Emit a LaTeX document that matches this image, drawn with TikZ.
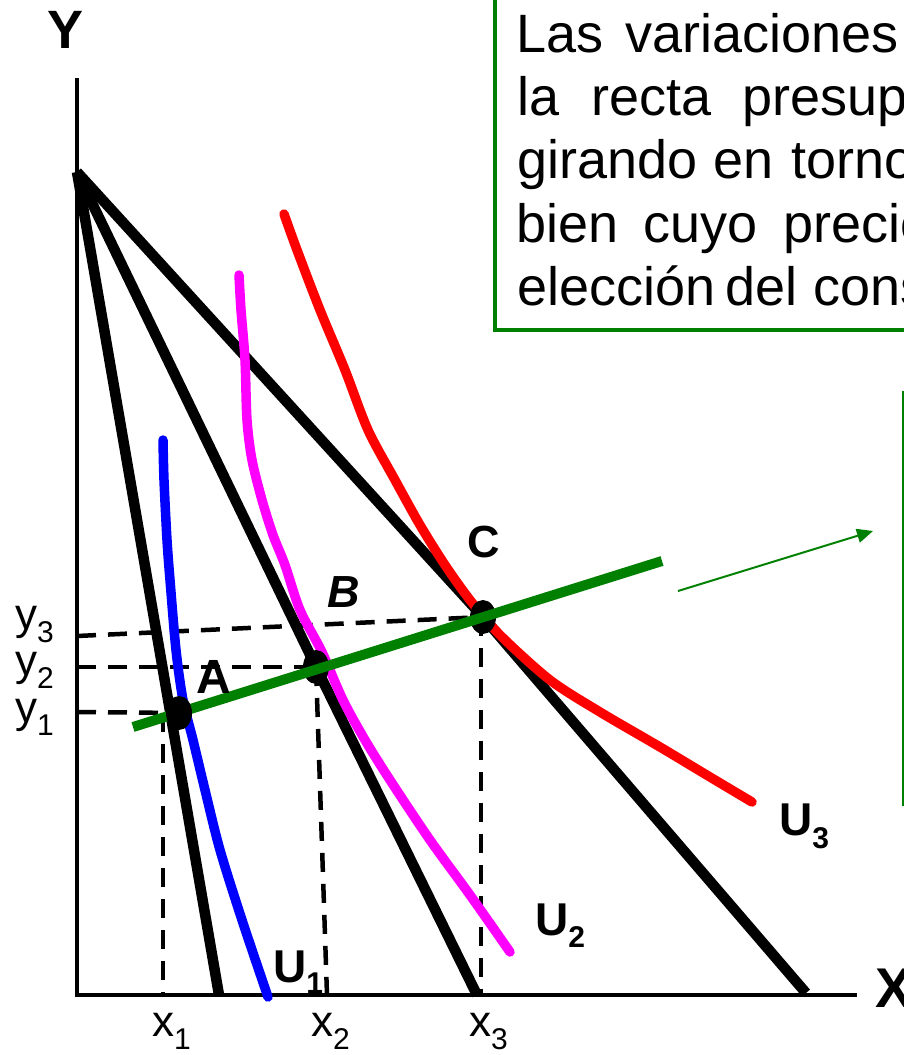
\documentclass[tikz,border=0pt]{standalone}
\usepackage{fontspec}
\setmainfont{Liberation Sans}
\usetikzlibrary{arrows.meta,shapes.geometric}
\definecolor{pgreen}{RGB}{0,128,0}
\definecolor{pmag}{RGB}{255,0,255}
\definecolor{pblue}{RGB}{0,0,255}
\definecolor{pred}{RGB}{255,0,0}
\newcommand{\sbs}[3]{#1\raisebox{-#3pt}{\fontsize{30}{30}\selectfont #2}}
\begin{document}
\begin{tikzpicture}[x=1pt,y=-1pt,
  axis/.style={line width=4.5pt},
  budget/.style={line width=10.5pt},
  dashln/.style={line width=4.5pt, dash pattern=on 19pt off 12pt},
  icurve/.style={line width=9.5pt, line cap=round, line join=round},
  lab/.style={inner sep=0pt, anchor=base west, font=\fontsize{46}{50}\selectfont\bfseries},
  ticklab/.style={inner sep=0pt, anchor=base west, font=\fontsize{44}{48}\selectfont},
  txt/.style={inner sep=0pt, anchor=base west, font=\fontsize{54}{63}\selectfont},
  dot/.style={ellipse, fill=black, minimum width=26pt, minimum height=34pt, inner sep=0pt}
]
\useasboundingbox (0,0) rectangle (904,1055);
\clip (0,0) rectangle (904,1055);

% key points
\coordinate (O) at (77,172);
\coordinate (E1) at (219,995);
\coordinate (E2) at (477,995);
\coordinate (E3) at (806,993);
\coordinate (pA) at (179,713);
\coordinate (pB) at (316,667);
\coordinate (pC) at (483,617);
\coordinate (G1) at (133,727);
\coordinate (G2) at (662,561);

% axes
\coordinate (Ytop) at (77,78);
\coordinate (Orig) at (77,995);
\coordinate (Xend) at (857,995);
\draw[axis] (Ytop) -- (Orig) -- (Xend);
\node[inner sep=0pt, anchor=base, font=\fontsize{54}{60}\selectfont\bfseries] (Ylab) at (66,48) {Y};
\node[inner sep=0pt, anchor=base west, font=\fontsize{56}{60}\selectfont\bfseries] (Xlab) at (875,1007) {X};

% dashed guides
\coordinate (y1l) at (77,712);
\coordinate (y2l) at (77,667);
\coordinate (y3l) at (77,636);
\coordinate (x1t) at (163,713);
\coordinate (x1b) at (163,995);
\coordinate (x2b) at (327,995);
\coordinate (x3t) at (481,617);
\coordinate (x3b) at (481,995);
\draw[dashln] (y1l) -- (pA);
\draw[dashln] (y2l) -- (pB);
\draw[dashln] (y3l) -- (pC);
\draw[dashln] (x1t) -- (x1b);
\draw[dashln] (pB) -- (x2b);
\draw[dashln] (x3t) -- (x3b);

% budget lines
\draw[budget] (O) -- (E1);
\draw[budget] (O) -- (pB) -- (E2);
\draw[budget] (O) -- (pC) -- (E3);

% indifference curves
\draw[icurve, pblue] plot[smooth, tension=0.5] coordinates {(163,440) (164,480) (167,540) (170,580) (176,650) (183,700) (193,740) (205,790) (220,850) (242,920) (268,997)};
\draw[icurve, pmag] plot[smooth, tension=0.5] coordinates {(239,275) (241,310) (245,360) (247,420) (252,460) (262,500) (273,535) (285,565) (300,610) (322,652) (343,700) (365,740) (390,780) (430,840) (470,895) (510,952)};
\draw[icurve, pred] plot[smooth, tension=0.5] coordinates {(284,214) (297,250) (320,310) (345,370) (368,430) (395,480) (420,525) (445,565) (470,600) (500,635) (550,680) (600,712) (660,747) (710,777) (752,802)};

% dots B, C under green line
\node[dot] (B) at (pB) {};
\node[dot] (C) at (pC) {};
% green line
\draw[pgreen, line width=10pt] (G1) -- (G2);
\node[dot] (A) at (pA) {};

% point labels
\node[inner sep=0pt, anchor=base west, font=\fontsize{48}{50}\selectfont\bfseries] (Alab) at (196,693) {A};
\node[inner sep=0pt, anchor=base west, font=\fontsize{45}{50}\selectfont\bfseries\itshape] (Blab) at (327,607) {B};
\node[inner sep=0pt, anchor=base west, font=\fontsize{45}{50}\selectfont\bfseries] (Clab) at (467,557) {C};

% curve labels
\node[lab] (U1) at (273,982) {\sbs{U}{1}{11}};
\node[lab] (U2) at (535,935) {\sbs{U}{2}{12}};
\node[lab] (U3) at (779,835) {\sbs{U}{3}{13}};

% tick labels
\node[ticklab] (ly3) at (15,629) {\sbs{y}{3}{13}};
\node[ticklab] (ly2) at (15,675) {\sbs{y}{2}{13}};
\node[ticklab] (ly1) at (15,722) {\sbs{y}{1}{13}};
\node[ticklab] (lx1) at (152,1036) {\sbs{x}{1}{13}};
\node[ticklab] (lx2) at (311,1036) {\sbs{x}{2}{13}};
\node[ticklab] (lx3) at (469,1036) {\sbs{x}{3}{13}};

% arrow and right box
\coordinate (ar1) at (678,591);
\coordinate (ar2) at (873,531);
\draw[pgreen, line width=2pt, -{Triangle[length=16pt,width=14pt]}] (ar1) -- (ar2);
\draw[pgreen, line width=2.5pt] (903,392) rectangle (1100,805);

% text box
\draw[pgreen, line width=4.5pt, fill=white] (495,-20) rectangle (1100,330);
\node[txt] (t1a) at (516,52) {Las};
\node[txt] (t1b) at (625,52) {variaciones};
\node[txt] (t2a) at (517,115) {la};
\node[txt] (t2b) at (591,115) {recta};
\node[txt] (t2c) at (742,115) {presup};
\node[txt] (t3a) at (517,178) {girando};
\node[txt] (t3b) at (713,178) {en};
\node[txt] (t3c) at (791,178) {torno};
\node[txt] (t4a) at (516,242) {bien};
\node[txt] (t4b) at (643,242) {cuyo};
\node[txt] (t4c) at (783,242) {precio};
\node[txt] (t5a) at (517,305) {elección};
\node[txt] (t5b) at (725,305) {del};
\node[txt] (t5c) at (813,305) {cons};
\end{tikzpicture}
\end{document}
